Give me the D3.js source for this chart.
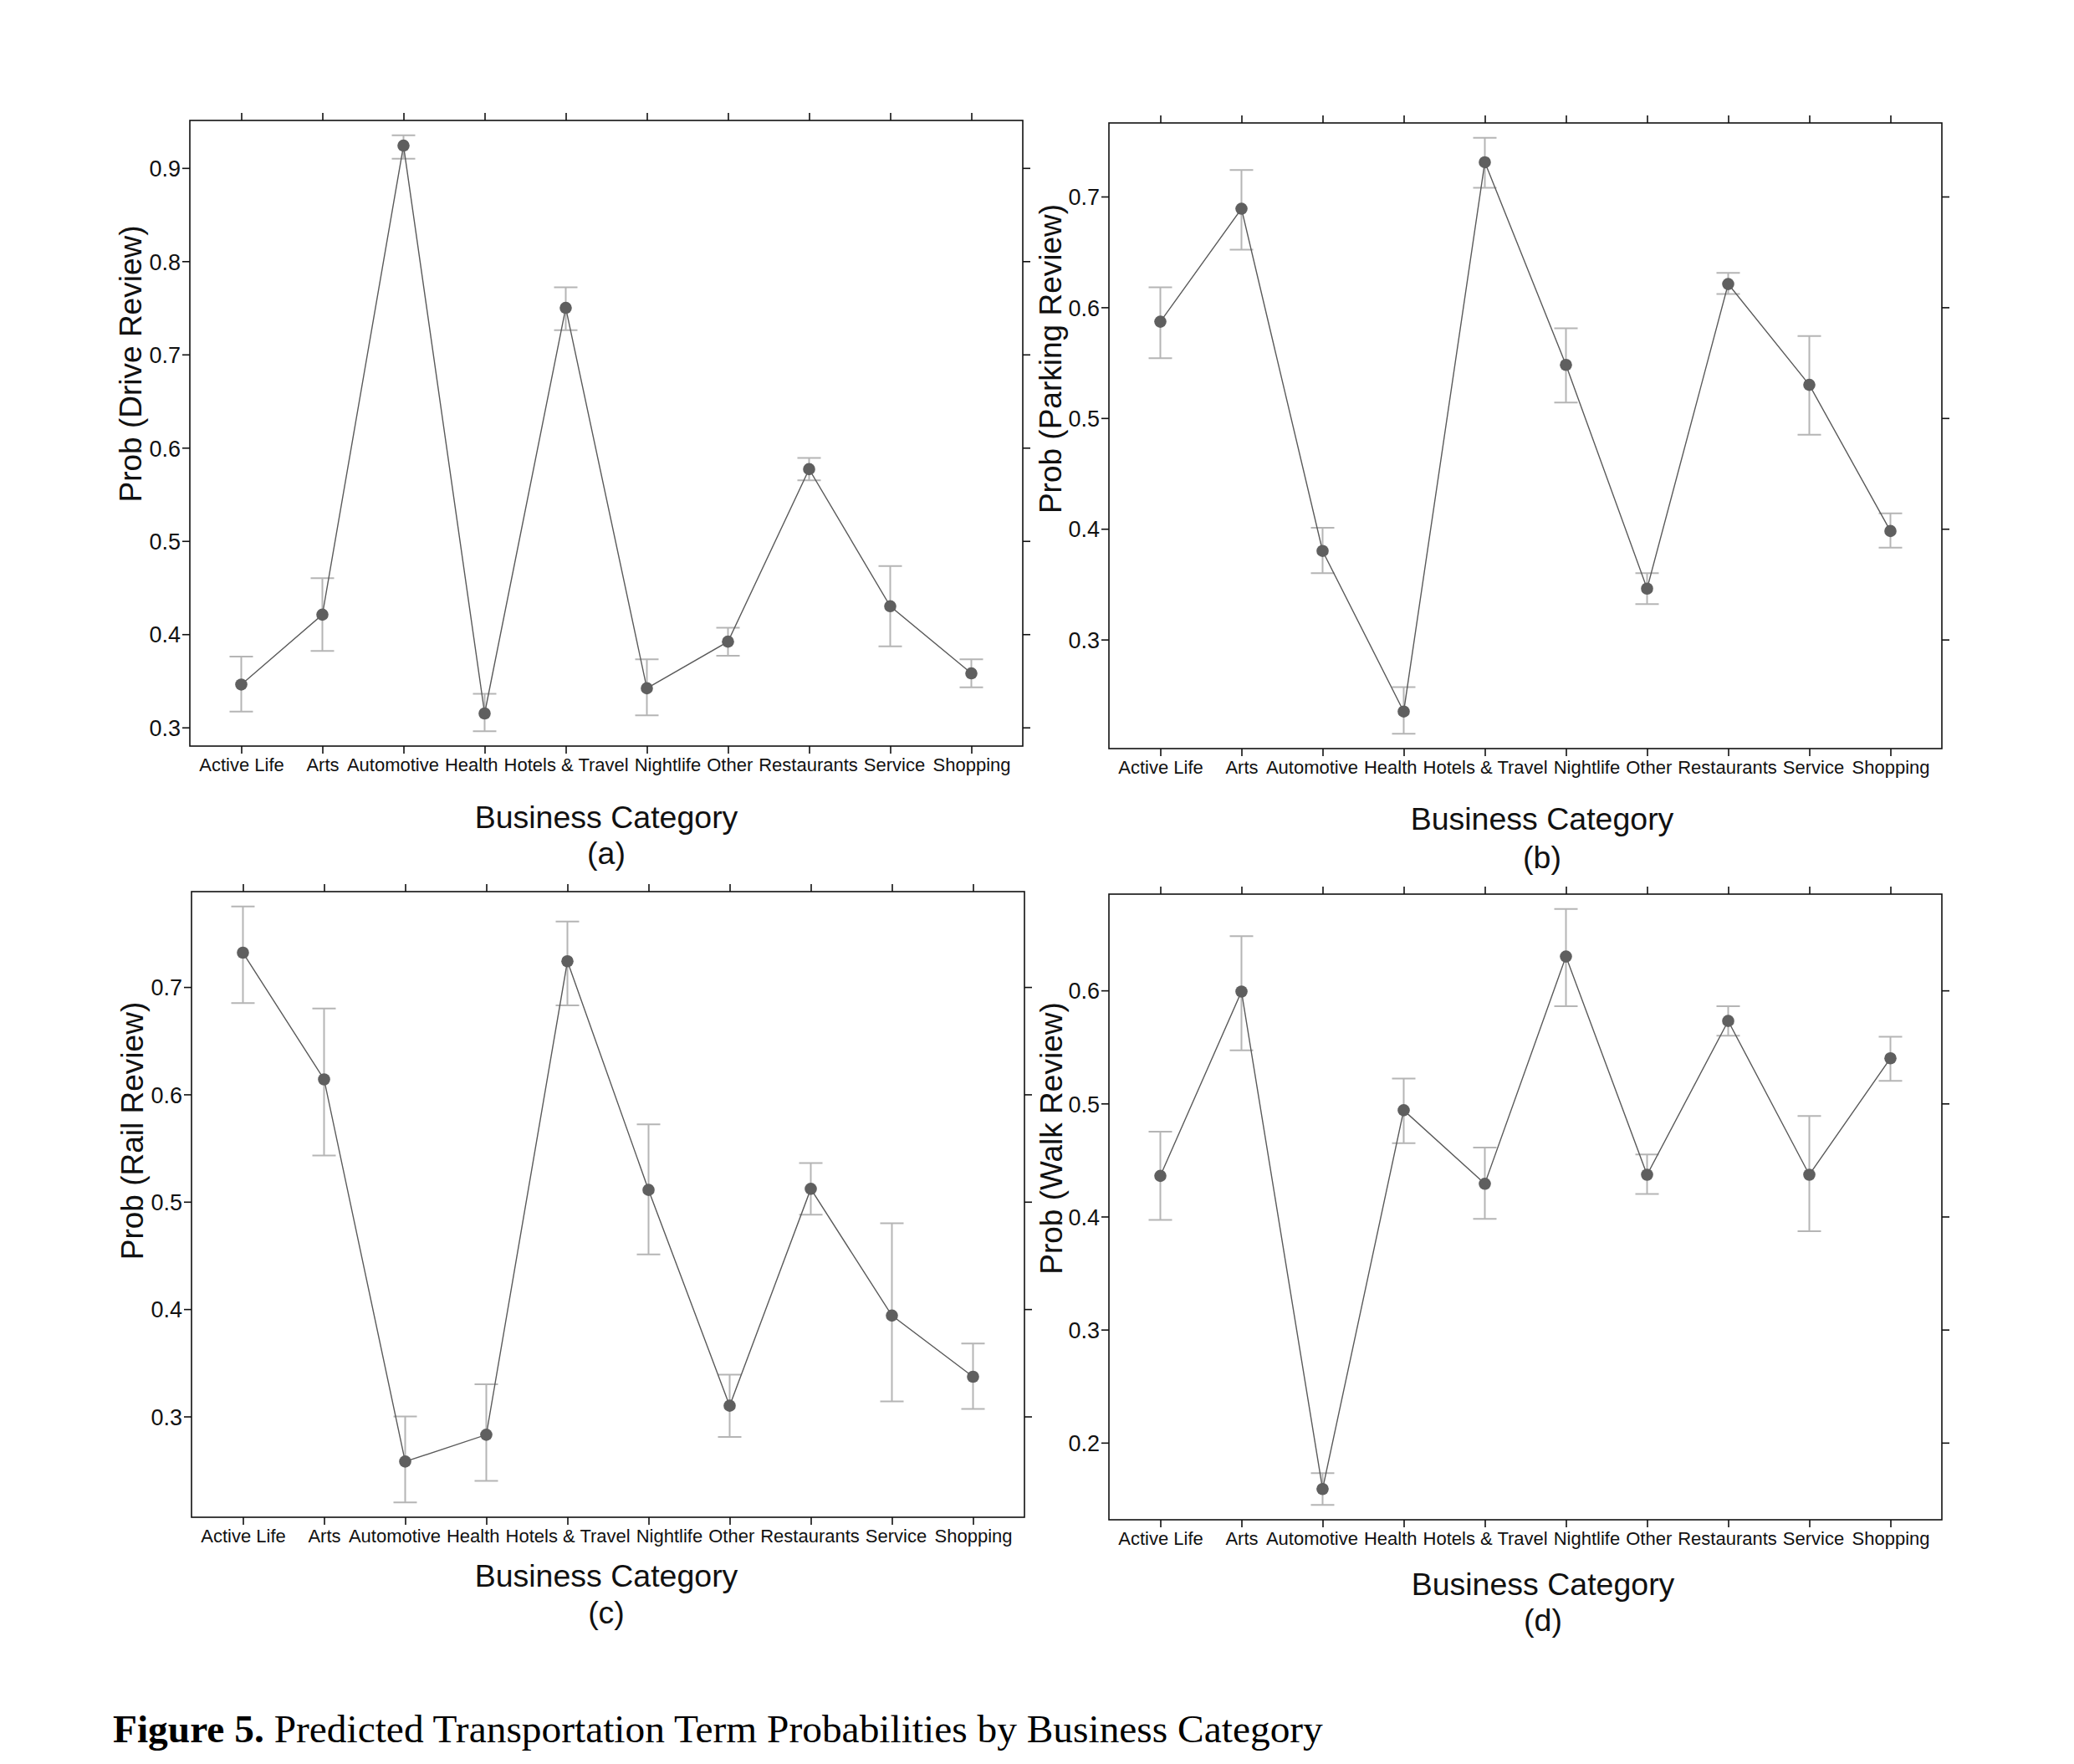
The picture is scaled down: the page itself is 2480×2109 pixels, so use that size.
<!DOCTYPE html>
<html>
<head>
<meta charset="utf-8">
<script src="https://cdn.jsdelivr.net/npm/d3@7"></script>
<style>
  body { margin: 0; background: #fff; }
  svg { display: block; }
</style>
</head>
<body>
<div id="container"></div>
<script>
// ==================== data ==================== //

const categories = ["Active Life", "Arts", "Automotive", "Health", "Hotels & Travel",
    "Nightlife", "Other", "Restaurants", "Service", "Shopping"];

const driveProb = [0.346, 0.421, 0.924, 0.315, 0.750, 0.342, 0.392, 0.577, 0.430, 0.358];
const driveLow  = [0.317, 0.382, 0.910, 0.296, 0.726, 0.313, 0.377, 0.565, 0.387, 0.343];
const driveHigh = [0.376, 0.460, 0.935, 0.336, 0.772, 0.373, 0.407, 0.589, 0.473, 0.373];

const parkingProb = [0.587, 0.689, 0.380, 0.235, 0.731, 0.548, 0.346, 0.621, 0.530, 0.398];
const parkingLow  = [0.554, 0.652, 0.360, 0.215, 0.708, 0.514, 0.332, 0.612, 0.485, 0.383];
const parkingHigh = [0.618, 0.724, 0.401, 0.257, 0.753, 0.581, 0.360, 0.631, 0.574, 0.414];

const railProb = [0.732, 0.614, 0.258, 0.283, 0.724, 0.511, 0.310, 0.512, 0.394, 0.337];
const railLow  = [0.685, 0.543, 0.220, 0.240, 0.683, 0.451, 0.281, 0.488, 0.314, 0.307];
const railHigh = [0.775, 0.680, 0.300, 0.330, 0.761, 0.572, 0.339, 0.536, 0.480, 0.368];

const walkProb = [0.436, 0.599, 0.159, 0.494, 0.429, 0.630, 0.437, 0.573, 0.437, 0.540];
const walkLow  = [0.397, 0.547, 0.145, 0.465, 0.398, 0.586, 0.420, 0.560, 0.387, 0.520];
const walkHigh = [0.475, 0.648, 0.173, 0.522, 0.461, 0.672, 0.455, 0.586, 0.489, 0.559];

const yTicksDrive = [0.3, 0.4, 0.5, 0.6, 0.7, 0.8, 0.9];
const yTicksParking = [0.3, 0.4, 0.5, 0.6, 0.7];
const yTicksRail = [0.3, 0.4, 0.5, 0.6, 0.7];
const yTicksWalk = [0.2, 0.3, 0.4, 0.5, 0.6];

const xTitle = "Business Category";
const caption = ["Figure 5.", " Predicted Transportation Term Probabilities by Business Category"];

// ==================== layout ==================== //

const panels = [
    { tag: "(a)", ylabel: "Prob (Drive Review)", prob: driveProb, low: driveLow, high: driveHigh, ticks: yTicksDrive,
      x: 227, y: 144, titleX: 725, titleDy: 98, tagDy: 141, ylabX: 169, ylabY: 435 },
    { tag: "(b)", ylabel: "Prob (Parking Review)", prob: parkingProb, low: parkingLow, high: parkingHigh, ticks: yTicksParking,
      x: 1326, y: 147, titleX: 1844, titleDy: 97, tagDy: 143, ylabX: 1269, ylabY: 429 },
    { tag: "(c)", ylabel: "Prob (Rail Review)", prob: railProb, low: railLow, high: railHigh, ticks: yTicksRail,
      x: 229, y: 1066, titleX: 725, titleDy: 83, tagDy: 127, ylabX: 171, ylabY: 1352 },
    { tag: "(d)", ylabel: "Prob (Walk Review)", prob: walkProb, low: walkLow, high: walkHigh, ticks: yTicksWalk,
      x: 1326, y: 1069, titleX: 1845, titleDy: 90, tagDy: 133, ylabX: 1270, ylabY: 1361 }
];

const W = 2480, H = 2109;
const frameW = 996, frameH = 748;
const tickLen = 9;
const sans = "'Liberation Sans', Arial, sans-serif";

const svg = d3.select("#container").append("svg")
    .attr("width", W)
    .attr("height", H)
    .attr("viewBox", `0 0 ${W} ${H}`);

svg.append("rect").attr("width", W).attr("height", H).attr("fill", "#fff");

panels.forEach(p => drawPanel(p));

// caption
const cap = svg.append("text")
    .attr("x", 135)
    .attr("y", 2083)
    .style("font-family", "'Liberation Serif', 'Times New Roman', serif")
    .style("font-size", "47.4px")
    .attr("fill", "#000");
cap.append("tspan").style("font-weight", "bold").text(caption[0]);
cap.append("tspan").text(caption[1]);

// ==================== helpers ==================== //

function drawPanel(p) {
    const g = svg.append("g").attr("transform", `translate(${p.x},${p.y})`);

    const x = d3.scalePoint()
        .domain(categories)
        .range([0, frameW])
        .padding(0.634);

    // data extent padded 2.5% each side, like the original
    const lo = d3.min(p.low), hi = d3.max(p.high);
    const pad = (hi - lo) * 0.025;
    const y = d3.scaleLinear()
        .domain([lo - pad, hi + pad])
        .range([frameH, 0]);

    const rows = categories.map((c, i) => ({ cat: c, v: p.prob[i], lo: p.low[i], hi: p.high[i] }));

    // axes
    const fmt = d3.format(".1f");
    const left = g.append("g")
        .call(d3.axisLeft(y).tickValues(p.ticks).tickSize(tickLen).tickPadding(2).tickFormat(fmt));
    const right = g.append("g").attr("transform", `translate(${frameW},0)`)
        .call(d3.axisRight(y).tickValues(p.ticks).tickSize(tickLen).tickFormat(""));
    const top = g.append("g")
        .call(d3.axisTop(x).tickSize(tickLen).tickFormat(""));
    const bottom = g.append("g").attr("transform", `translate(0,${frameH})`)
        .call(d3.axisBottom(x).tickSize(tickLen).tickPadding(0));

    [left, right, top, bottom].forEach(a => {
        a.select(".domain").remove();
        a.selectAll(".tick line").attr("stroke", "#111").attr("stroke-width", 1.6);
    });

    left.selectAll(".tick text")
        .style("font-family", sans)
        .style("font-size", "27px")
        .attr("fill", "#111")
        .attr("dy", "0.36em");

    bottom.selectAll(".tick text")
        .style("font-family", sans)
        .style("font-size", "22px")
        .attr("fill", "#111")
        .attr("dy", null)
        .attr("y", 30);

    packLabels(bottom, x);

    // frame
    g.append("rect")
        .attr("width", frameW)
        .attr("height", frameH)
        .attr("fill", "none")
        .attr("stroke", "#111")
        .attr("stroke-width", 1.6);

    // error bars
    const capW = 14;
    const err = g.append("g").attr("stroke", "#b5b5b5").attr("stroke-width", 2).attr("fill", "none");
    err.selectAll("path")
        .data(rows)
        .join("path")
        .attr("d", d => {
            const cx = x(d.cat), y0 = y(d.lo), y1 = y(d.hi);
            return `M${cx - capW},${y1}H${cx + capW}M${cx},${y1}V${y0}M${cx - capW},${y0}H${cx + capW}`;
        });

    // connecting line
    g.append("path")
        .datum(rows)
        .attr("fill", "none")
        .attr("stroke", "#5a5a5a")
        .attr("stroke-width", 1.4)
        .attr("d", d3.line().x(d => x(d.cat)).y(d => y(d.v)));

    // points
    g.selectAll("circle")
        .data(rows)
        .join("circle")
        .attr("cx", d => x(d.cat))
        .attr("cy", d => y(d.v))
        .attr("r", 7.3)
        .attr("fill", "#5f5f5f");

    // titles
    svg.append("text")
        .attr("x", p.titleX)
        .attr("y", p.y + frameH + p.titleDy)
        .attr("text-anchor", "middle")
        .style("font-family", sans)
        .style("font-size", "37.5px")
        .attr("fill", "#111")
        .text(xTitle);

    svg.append("text")
        .attr("x", p.titleX)
        .attr("y", p.y + frameH + p.tagDy)
        .attr("text-anchor", "middle")
        .style("font-family", sans)
        .style("font-size", "37.5px")
        .attr("fill", "#111")
        .text(p.tag);

    svg.append("text")
        .attr("transform", `translate(${p.ylabX},${p.ylabY}) rotate(-90)`)
        .attr("text-anchor", "middle")
        .style("font-family", sans)
        .style("font-size", "37px")
        .attr("fill", "#111")
        .text(p.ylabel);
}

// push neighbouring tick labels apart so they never overlap
function packLabels(axisG, x) {
    const texts = axisG.selectAll(".tick text").nodes();
    const gap = 7;
    const items = texts.map(t => ({ node: t, w: t.getComputedTextLength(), c: x(t.__data__), shift: 0 }));
    for (let iter = 0; iter < 60; iter++) {
        for (let i = 0; i < items.length - 1; i++) {
            const a = items[i], b = items[i + 1];
            const overlap = (a.c + a.shift + a.w / 2 + gap) - (b.c + b.shift - b.w / 2);
            if (overlap > 0) {
                a.shift -= overlap / 2;
                b.shift += overlap / 2;
            }
        }
    }
    items.forEach(it => d3.select(it.node).attr("dx", it.shift));
}
</script>
</body>
</html>
